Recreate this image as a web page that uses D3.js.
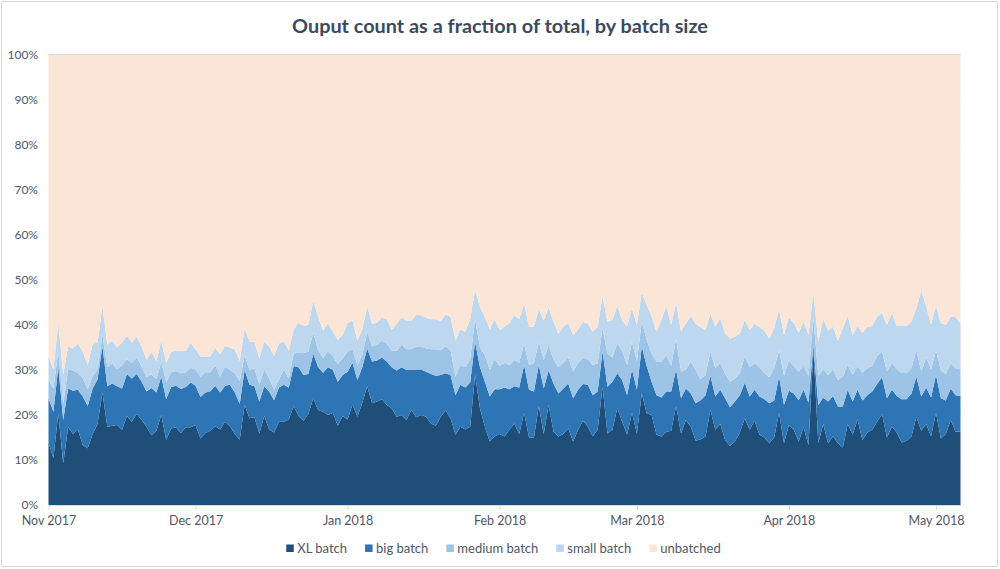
<!DOCTYPE html>
<html lang="en">
<head>
<meta charset="utf-8">
<title>Ouput count as a fraction of total, by batch size</title>
<script src="https://cdn.jsdelivr.net/npm/d3@7"></script>
<style>
  body { margin: 0; background: #fff; }
  svg { display: block; font-family: Lato, "Open Sans", sans-serif; }
</style>
</head>
<body>
<script>

// one category per day, Nov 1 2017 .. May 6 2018
var firstDay = new Date(2017, 10, 1);
var lastDay = new Date(2018, 4, 6);
var days = d3.timeDay.range(firstDay, d3.timeDay.offset(lastDay, 1));

// cumulative share of outputs (%): top edge of each band
var xlTop = [
  13.9, 10.4, 20.4, 9.3, 17.3, 15.8, 16.7, 13.3, 12.6, 15.8,
  18, 25, 17.4, 17.6, 17.8, 16.7, 19.8, 18.5, 20.2, 18.9,
  17.4, 15.5, 16.5, 20, 14.5, 17, 17.3, 16, 17.3, 17.3,
  17.8, 14.8, 16, 16.5, 17.5, 16.8, 18.5, 17.5, 15.8, 14.5,
  22.2, 19.3, 19.5, 15.9, 19.8, 16.8, 16.1, 18.5, 18.5, 19,
  22, 19.8, 18.7, 20.2, 23.7, 21.1, 20.7, 20, 20.5, 17.6,
  19.8, 19, 22.4, 19.6, 22.7, 26.4, 22.6, 23, 23.5, 22.2,
  21.5, 19.6, 20, 18.9, 21.1, 19.5, 20, 19.6, 18.1, 17.6,
  19.6, 21, 19.3, 15.6, 17.4, 16.8, 17.4, 28.9, 21.5, 17.4,
  14.1, 15.2, 15.8, 15.2, 16.7, 18.1, 15.8, 20.5, 15, 15,
  22, 15.8, 22.2, 16.3, 15.2, 15.8, 17, 14.1, 16.7, 18.7,
  17.4, 15.3, 16.7, 26.3, 15.9, 16.7, 21.5, 18.5, 15.6, 20.5,
  15.9, 24.8, 20.4, 20, 15.6, 15.2, 16.3, 16.5, 22, 15.9,
  18.9, 17.4, 14.3, 14.6, 15.2, 21.1, 16.7, 18, 14.4, 13.1,
  14.1, 16.1, 19.3, 16.7, 18.7, 15.6, 15, 13.7, 15, 20.5,
  13.7, 17.8, 16.7, 14.1, 17.3, 13.3, 34.5, 13.7, 18, 13.7,
  15.3, 13.7, 12.8, 18, 15.6, 19, 14.4, 16.1, 16.7, 18.5,
  20.2, 15, 17.4, 16.1, 13.9, 14.3, 15.2, 19.6, 16.5, 18,
  15.3, 20.5, 14.8, 15.8, 18.9, 16.3, 16.3
];
var bigTop = [
  23.7, 20.7, 30.6, 18.9, 25.9, 25.4, 25.6, 24.1, 22, 25.9,
  27.9, 35.2, 26.4, 27, 26.4, 25.9, 29.1, 28.1, 29.1, 27.4,
  25.2, 26, 25, 28.5, 23.5, 26.2, 26.5, 25.8, 26.2, 27.2,
  26.5, 24, 25, 25.3, 26.5, 25, 26.5, 26.7, 25, 22.5,
  30, 26.7, 26.4, 23, 26.4, 25.2, 23.3, 26.1, 26.7, 26.1,
  30.9, 30.6, 28.9, 29.1, 33.6, 30.6, 29.4, 30.6, 30, 27.4,
  28.9, 29.6, 31.6, 27.8, 30.6, 34.8, 31.9, 32.1, 32.8, 31.9,
  30.6, 29.9, 30.6, 30, 30, 30.1, 30.1, 29.6, 29.1, 28.7,
  28.9, 29.3, 28.9, 24.4, 26.7, 26.1, 27.2, 36.3, 30.6, 27.4,
  24.1, 25.7, 25.7, 26.1, 25.7, 26.4, 26.1, 31.1, 25.6, 25.2,
  31.1, 25.9, 29.9, 27, 24.8, 25.9, 27, 23.7, 25.6, 26.9,
  26.7, 24.4, 25.2, 34.1, 26.3, 27.4, 29.3, 27.8, 24.4, 30.1,
  25.6, 35.2, 30.9, 27.4, 24.4, 23.9, 25.2, 25.2, 30.1, 23.7,
  25.9, 24.8, 22.6, 23.3, 24.4, 28.7, 24.1, 25.6, 23.7, 21.7,
  23, 24.4, 27.2, 24.1, 25.6, 24.1, 23.5, 22.6, 23.2, 28.5,
  22.2, 25.4, 24.8, 23.3, 25.6, 22.7, 35.5, 22.2, 23.9, 23,
  24.2, 21.9, 21.9, 25.6, 23, 25.6, 23.2, 24.4, 25.2, 26.9,
  28.4, 23.7, 25.6, 24.2, 23.5, 23.5, 24.8, 28.5, 24.1, 26.1,
  23.9, 28.9, 23.7, 23.2, 25.9, 24.4, 24.2
];
var mediumTop = [
  27.8, 25.9, 34.1, 22.6, 30.1, 29.9, 29.4, 28.1, 25.7, 28.7,
  30, 37.8, 30.6, 31.5, 30.1, 31.1, 32.4, 31.6, 32.8, 30.7,
  28.5, 29, 28, 31.8, 27.3, 29.5, 29.8, 29.3, 29.5, 30.5,
  30, 28.5, 29.5, 29.5, 31, 28.5, 30.8, 30, 29.3, 27.5,
  33.3, 30, 30.4, 26.7, 30.1, 28.1, 25.6, 27.9, 30.1, 28.1,
  33.6, 33.9, 33.7, 34.1, 38.3, 34.4, 32.6, 34.3, 33.1, 31.3,
  32.6, 34.1, 34.6, 31.1, 33.3, 38.5, 35.2, 35.6, 36.5, 35.9,
  34.3, 34.3, 35.6, 34.6, 34.6, 35.2, 35.3, 34.8, 34.6, 34.6,
  34.4, 35.3, 34.4, 28.5, 31.1, 30.6, 32.4, 41.3, 35, 33.3,
  30, 32.4, 30.9, 31.6, 31.1, 32.2, 31.6, 35.8, 31.1, 31.5,
  36.3, 32.2, 35.6, 32.2, 30.6, 31.6, 32.8, 29.6, 31.5, 32.8,
  32.4, 31.1, 31.5, 39.3, 33.6, 32.8, 35.9, 34.1, 31.1, 36.3,
  31.9, 40.7, 36.7, 33.6, 31.9, 31.9, 33.3, 30.9, 37, 29.6,
  30.1, 31.9, 30, 27.9, 28.9, 34.1, 30.4, 31.6, 29.1, 27.4,
  28.1, 29.3, 33.1, 30.6, 31.5, 30.6, 29.3, 28.4, 30.4, 34.4,
  28.7, 32.1, 30.9, 29.6, 30.9, 28.7, 41.5, 28.7, 30.1, 28.9,
  30.1, 27.8, 28.5, 31.1, 28.9, 30.9, 29.4, 30.4, 30.9, 33.1,
  34.1, 29.6, 31.5, 30.1, 29.4, 29.3, 30.4, 34.4, 29.6, 32.8,
  30.1, 34.4, 29.9, 29.1, 31.5, 30.4, 30.1
];
var smallTop = [
  33.1, 30.1, 40.4, 29, 35.2, 34.8, 35.9, 34.1, 31.1, 35.8,
  36.1, 44.1, 35.6, 36.5, 35, 36.1, 37.6, 36.1, 37.4, 35.2,
  32.2, 34, 32, 36.5, 31.5, 34, 34.3, 34.3, 34.3, 36,
  34.5, 33, 33, 33, 35, 33.5, 35.3, 35, 34.5, 32,
  39.3, 36.3, 36.2, 32.6, 36.4, 35.2, 33.1, 35.9, 36.4, 34.3,
  38.9, 40.5, 39.8, 40, 45.2, 41.9, 38.7, 40.4, 38.5, 36.7,
  37.8, 40.4, 41, 36.5, 39, 44.2, 40.2, 40.5, 41.7, 41.3,
  39, 40.2, 41.7, 41, 41, 42.3, 42.1, 41.6, 41.3, 41.3,
  40.9, 42.4, 41.7, 36.5, 39, 38.5, 41.3, 47.9, 44, 41.8,
  39, 41.3, 38.9, 39.6, 40.4, 42.2, 41.3, 44.7, 39.6, 39.6,
  43.5, 41, 43.9, 40.7, 38, 39.6, 40.4, 37.8, 39, 40.7,
  40.2, 38.5, 39.6, 46.4, 40.7, 41.1, 44.2, 41, 39.6, 43.7,
  40, 47.2, 44.4, 41.9, 38.5, 41.1, 44.2, 40, 45, 38.5,
  40.4, 42, 40.2, 39.5, 38.9, 42.6, 39.6, 41.5, 38.1, 37,
  37.4, 38.1, 41.1, 38.9, 40.2, 39.6, 38.7, 37, 39.3, 43.5,
  37.8, 41.7, 40.4, 38.3, 40.7, 37.8, 47.2, 36.3, 41.3, 38.7,
  39.6, 36.5, 39.3, 42, 37.8, 39.8, 38.3, 39.6, 39.8, 41.9,
  42.7, 40, 42.6, 39.8, 39.8, 39.8, 40.7, 43.7, 47.6, 44.1,
  40, 44.2, 40.4, 40, 41.9, 41.7, 40.4
];

var seriesNames = ["XL batch", "big batch", "medium batch", "small batch", "unbatched"];
var seriesColors = ["#1f4e79", "#2e75b6", "#9dc3e6", "#bdd7ee", "#fbe5d6"];
var yTicks = [0, 10, 20, 30, 40, 50, 60, 70, 80, 90, 100];
var monthTicks = d3.timeMonth.range(firstDay, lastDay);
var titleText = "Ouput count as a fraction of total, by batch size";

var w = 1000, h = 569;
var margin = {left: 48.5, right: 39.5, top: 55, bottom: 64};
var labelColor = "#4e5767";

var svg = d3.select("body").append("svg")
  .attr("width", w)
  .attr("height", h);

// chart area border
svg.append("rect")
  .attr("x", 1.5).attr("y", 1.5)
  .attr("width", w - 4).attr("height", h - 4)
  .attr("fill", "#fff")
  .attr("stroke", "#d9d9d9");

var x = d3.scaleTime()
  .domain([firstDay, lastDay])
  .range([margin.left, w - margin.right]);
var y = d3.scaleLinear()
  .domain([0, 100])
  .range([h - margin.bottom, margin.top]);

// gridlines
svg.append("g").selectAll("line")
  .data(yTicks)
  .enter().append("line")
  .attr("x1", margin.left).attr("x2", w - margin.right)
  .attr("y1", function(d) { return y(d); })
  .attr("y2", function(d) { return y(d); })
  .attr("stroke", "#d9d9d9");

// band edges: chart floor, the four read edges, chart ceiling
var tops = [xlTop, bigTop, mediumTop, smallTop];
var bands = seriesNames.map(function(name, i) {
  return days.map(function(day, j) {
    return {
      date: day,
      lo: i === 0 ? 0 : tops[i - 1][j],
      hi: i === tops.length ? 100 : tops[i][j]
    };
  });
});

var area = d3.area()
  .x(function(d) { return x(d.date); })
  .y0(function(d) { return y(d.lo); })
  .y1(function(d) { return y(d.hi); });

svg.append("g").selectAll("path")
  .data(bands)
  .enter().append("path")
  .attr("d", area)
  .attr("fill", function(d, i) { return seriesColors[i]; });

// top gridline shows above the areas
svg.append("line")
  .attr("x1", margin.left).attr("x2", w - margin.right)
  .attr("y1", y(100) - 0.5).attr("y2", y(100) - 0.5)
  .attr("stroke", "#d9d9d9");

// y axis labels
svg.append("g").selectAll("text")
  .data(yTicks)
  .enter().append("text")
  .attr("x", 38)
  .attr("y", function(d) { return y(d); })
  .attr("dy", "0.35em")
  .attr("text-anchor", "end")
  .attr("font-size", "12px")
  .attr("fill", labelColor)
  .text(function(d) { return d + "%"; });

// x axis
var xAxis = d3.axisBottom(x)
  .tickValues(monthTicks)
  .tickSize(5)
  .tickSizeOuter(0)
  .tickPadding(6)
  .tickFormat(d3.timeFormat("%b %Y"));

var gx = svg.append("g")
  .attr("transform", "translate(0," + y(0) + ")")
  .call(xAxis);
gx.select(".domain").attr("stroke", "#d9d9d9");
gx.selectAll(".tick line").attr("stroke", "#d9d9d9");
gx.selectAll(".tick text")
  .attr("font-family", "Lato, 'Open Sans', sans-serif")
  .attr("font-size", "12.5px")
  .attr("fill", labelColor);

// title, sized to the reference width
var title = svg.append("text")
  .attr("x", 500)
  .attr("y", 33)
  .attr("text-anchor", "middle")
  .attr("font-weight", "bold")
  .attr("font-size", "20px")
  .attr("fill", "#3b4a5f")
  .text(titleText);
var tw = title.node().getComputedTextLength();
title.attr("font-size", (20 * 416 / tw).toFixed(2) + "px");

// legend
var legend = svg.append("g");
var items = legend.selectAll("g")
  .data(seriesNames)
  .enter().append("g");
items.append("rect")
  .attr("y", 544.5)
  .attr("width", 7.5).attr("height", 7.5)
  .attr("fill", function(d, i) { return seriesColors[i]; });
items.append("text")
  .attr("x", 11)
  .attr("y", 548)
  .attr("dy", "0.35em")
  .attr("font-size", "13px")
  .attr("fill", labelColor)
  .text(function(d) { return d; });

var pos = 0, offsets = [];
items.each(function() {
  offsets.push(pos);
  pos += 11 + d3.select(this).select("text").node().getComputedTextLength() + 18;
});
var legendW = pos - 18;
var legendX = 503.5 - legendW / 2;
items.attr("transform", function(d, i) { return "translate(" + (legendX + offsets[i]) + ",0)"; });

</script>
</body>
</html>
